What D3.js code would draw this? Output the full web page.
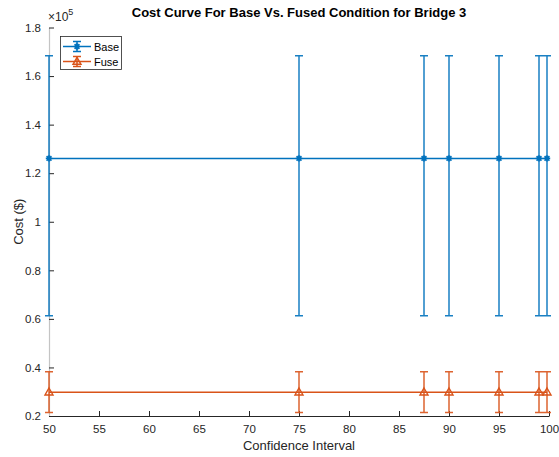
<!DOCTYPE html>
<html><head><meta charset="utf-8">
<script src="https://cdn.jsdelivr.net/npm/d3@7"></script>
<style>body{margin:0;background:#fff}svg{display:block}text{font-family:"Liberation Sans",Arial,sans-serif}</style>
</head><body><svg id="c" width="559" height="457"></svg>
<script>
const confidence = [50, 75, 87.5, 90, 95, 99, 99.8];
const baseMean = [126100, 126100, 126100, 126100, 126100, 126100, 126100];
const baseLow  = [61300, 61300, 61300, 61300, 61300, 61300, 61300];
const baseHigh = [168400, 168400, 168400, 168400, 168400, 168400, 168400];
const fuseMean = [29800, 29800, 29800, 29800, 29800, 29800, 29800];
const fuseLow  = [21400, 21400, 21400, 21400, 21400, 21400, 21400];
const fuseHigh = [38200, 38200, 38200, 38200, 38200, 38200, 38200];
const xTicks = [50, 55, 60, 65, 70, 75, 80, 85, 90, 95, 100];
const yTicks = [0.2, 0.4, 0.6, 0.8, 1, 1.2, 1.4, 1.6, 1.8];
const seriesNames = ["Base", "Fuse"];
const colors = ["#0072BD", "#D95319"];

const svg = d3.select("#c");
const L = 49, R = 549, T = 27.5, B = 416;
const x = d3.scaleLinear().domain([50, 100]).range([L, R]);
const y = d3.scaleLinear().domain([0.2, 1.8]).range([B, T]);
const axisCol = "#262626";

// axes
const gx = svg.append("g").attr("transform", `translate(0,${B})`)
  .call(d3.axisBottom(x).tickValues(xTicks).tickSizeInner(-5).tickSizeOuter(0).tickPadding(9).tickFormat(d3.format("d")));
gx.select(".domain").attr("stroke", axisCol).attr("stroke-width", 1);
gx.selectAll(".tick line").attr("stroke", axisCol);
gx.selectAll("text").attr("fill", axisCol).attr("font-size", 11.5);

const gy = svg.append("g").attr("transform", `translate(${L},0)`)
  .call(d3.axisLeft(y).tickValues(yTicks).tickSizeInner(-5).tickSizeOuter(0).tickPadding(8).tickFormat(d => String(+d.toFixed(1))));
gy.select(".domain").attr("stroke", "#c4c4c4").attr("stroke-width", 1.2);
gy.selectAll(".tick line").attr("stroke", axisCol);
gy.selectAll("text").attr("fill", axisCol).attr("font-size", 11.5);

// exponent label
const ex = svg.append("text").attr("x", 48).attr("y", 21).attr("fill", axisCol).attr("font-size", 12);
ex.append("tspan").text("\u00d710");
ex.append("tspan").attr("dy", -6).attr("font-size", 9).text("5");

// title and labels
svg.append("text").attr("x", (L + R) / 2).attr("y", 17).attr("text-anchor", "middle")
  .attr("font-size", 13).attr("font-weight", "bold").attr("fill", "#000")
  .text("Cost Curve For Base Vs. Fused Condition for Bridge 3");
svg.append("text").attr("x", (L + R) / 2).attr("y", 450).attr("text-anchor", "middle")
  .attr("font-size", 13).attr("fill", axisCol).text("Confidence Interval");
svg.append("text").attr("transform", `translate(23,${(T + B) / 2}) rotate(-90)`).attr("text-anchor", "middle")
  .attr("font-size", 13).attr("fill", axisCol).text("Cost ($)");

function asterisk(g, cx, cy, col) {
  const r = 3.2, d = r * 0.75;
  g.append("path").attr("d", `M${cx - r},${cy}H${cx + r}M${cx},${cy - r}V${cy + r}M${cx - d},${cy - d}L${cx + d},${cy + d}M${cx - d},${cy + d}L${cx + d},${cy - d}`)
    .attr("stroke", col).attr("stroke-width", 1.6).attr("fill", "none");
}
function triangle(g, cx, cy, col) {
  const w = 4, h = 7;
  g.append("path").attr("d", `M${cx},${cy - h * 0.6}L${cx + w},${cy + h * 0.4}L${cx - w},${cy + h * 0.4}Z`)
    .attr("stroke", col).attr("stroke-width", 1.4).attr("fill", "none");
}

const series = [
  {mean: baseMean, low: baseLow, high: baseHigh, col: colors[0], marker: asterisk},
  {mean: fuseMean, low: fuseLow, high: fuseHigh, col: colors[1], marker: triangle}
];
const cap = 4;
series.forEach(s => {
  const g = svg.append("g");
  const line = d3.line().x((d, i) => x(confidence[i])).y(d => y(d / 1e5));
  g.append("path").datum(s.mean).attr("d", line).attr("fill", "none").attr("stroke", s.col).attr("stroke-width", 1.5);
  confidence.forEach((c, i) => {
    const px = x(c), yl = y(s.low[i] / 1e5), yh = y(s.high[i] / 1e5);
    g.append("path").attr("d", `M${px},${yl}V${yh}M${px - cap},${yl}H${px + cap}M${px - cap},${yh}H${px + cap}`)
      .attr("stroke", s.col).attr("stroke-width", 1.5).attr("fill", "none").attr("stroke-opacity", 0.9);
    s.marker(g, px, y(s.mean[i] / 1e5), s.col);
  });
});

// legend
const lg = svg.append("g");
lg.append("rect").attr("x", 60.5).attr("y", 36.5).attr("width", 61).attr("height", 33)
  .attr("fill", "#fff").attr("stroke", axisCol).attr("stroke-width", 0.8);
series.forEach((s, i) => {
  const cy = 46.5 + i * 15;
  lg.append("line").attr("x1", 63).attr("x2", 91).attr("y1", cy).attr("y2", cy).attr("stroke", s.col).attr("stroke-width", 1.5);
  lg.append("path").attr("d", `M77,${cy - 5}V${cy + 5}M73,${cy - 5}H81M73,${cy + 5}H81`).attr("stroke", s.col).attr("stroke-width", 1.5).attr("fill", "none");
  s.marker(lg, 77, cy, s.col);
  lg.append("text").attr("x", 94).attr("y", cy + 4).attr("font-size", 11).attr("fill", "#000").text(seriesNames[i]);
});
</script></body></html>
